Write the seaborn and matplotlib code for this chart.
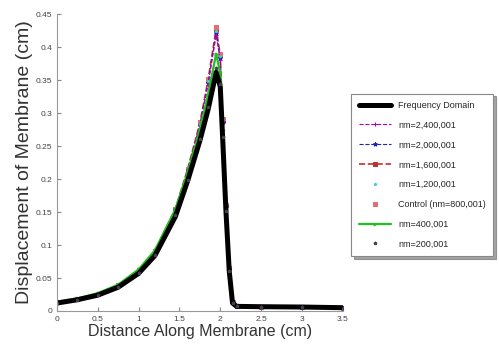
import numpy as np
import pandas as pd
import matplotlib
matplotlib.use("Agg")
import matplotlib.pyplot as plt
import seaborn as sns

# distance along membrane (cm)
dist = [0, 0.25, 0.5, 0.75, 1.0, 1.2, 1.45, 1.6, 1.75, 1.85, 1.95, 2.0,
        2.03, 2.07, 2.11, 2.15, 2.2, 2.5, 3.0, 3.5]

freq_domain = [0.012, 0.017, 0.024, 0.036, 0.057, 0.084, 0.143, 0.197, 0.258, 0.305, 0.362, 0.34,
               0.26, 0.15, 0.06, 0.012, 0.007, 0.0065, 0.006, 0.005]
nm_2400 = [0.013, 0.018, 0.026, 0.039, 0.061, 0.09, 0.153, 0.212, 0.28, 0.343, 0.418, 0.38,
           0.285, 0.158, 0.064, 0.013, 0.007, 0.0065, 0.006, 0.005]
nm_2000 = [0.013, 0.018, 0.026, 0.039, 0.061, 0.09, 0.154, 0.213, 0.282, 0.345, 0.422, 0.383,
           0.287, 0.159, 0.064, 0.013, 0.007, 0.0065, 0.006, 0.005]
nm_1600 = [0.013, 0.018, 0.026, 0.039, 0.062, 0.091, 0.155, 0.215, 0.285, 0.35, 0.428, 0.388,
           0.29, 0.16, 0.065, 0.013, 0.007, 0.0065, 0.006, 0.005]
nm_1200 = [0.013, 0.018, 0.026, 0.039, 0.062, 0.091, 0.155, 0.214, 0.284, 0.348, 0.425, 0.386,
           0.289, 0.16, 0.065, 0.013, 0.007, 0.0065, 0.006, 0.005]
control_800 = [0.013, 0.018, 0.026, 0.039, 0.062, 0.091, 0.155, 0.215, 0.286, 0.351, 0.43, 0.39,
               0.291, 0.161, 0.065, 0.013, 0.007, 0.0065, 0.006, 0.005]
nm_400 = [0.014, 0.019, 0.027, 0.04, 0.063, 0.092, 0.154, 0.21, 0.274, 0.328, 0.39, 0.36,
          0.275, 0.155, 0.062, 0.013, 0.007, 0.0065, 0.006, 0.005]
nm_200 = [0.012, 0.017, 0.025, 0.037, 0.058, 0.085, 0.145, 0.199, 0.261, 0.309, 0.368, 0.344,
          0.263, 0.152, 0.061, 0.012, 0.007, 0.0065, 0.006, 0.005]

labels = ["Frequency Domain", "nm=2,400,001", "nm=2,000,001", "nm=1,600,001",
          "nm=1,200,001", "Control (nm=800,001)", "nm=400,001", "nm=200,001"]
series = [freq_domain, nm_2400, nm_2000, nm_1600, nm_1200, control_800, nm_400, nm_200]

styles = {
    "Frequency Domain": dict(color="black", lw=3.6, ls="-", marker=None, ms=0),
    "nm=2,400,001": dict(color="#b000b0", lw=0.8, ls="--", marker="+", ms=3),
    "nm=2,000,001": dict(color="#2020c0", lw=0.8, ls="--", marker="*", ms=3),
    "nm=1,600,001": dict(color="#c03030", lw=1.2, ls="--", marker="s", ms=2.5),
    "nm=1,200,001": dict(color="#40d0c0", lw=0, ls="", marker=".", ms=3),
    "Control (nm=800,001)": dict(color="#e07070", lw=0, ls="", marker="s", ms=2.5),
    "nm=400,001": dict(color="#20c020", lw=1.6, ls="-", marker=">", ms=2),
    "nm=200,001": dict(color="#404050", lw=0, ls="", marker="*", ms=2.5),
}

df = pd.concat([pd.DataFrame({"x": dist, "y": s, "name": n}) for n, s in zip(labels, series)])

sns.set_style("ticks")
plt.rcParams['font.family'] = ['Liberation Sans', 'DejaVu Sans']

fig = plt.figure(figsize=(4.99, 3.53), dpi=100)
ax = fig.add_axes([0.114, 0.119, 0.573, 0.841])

# draw order: coloured ones first, black on top of the lower part
order = ["nm=1,600,001", "Control (nm=800,001)", "nm=2,000,001", "nm=2,400,001",
         "nm=1,200,001", "nm=400,001", "Frequency Domain", "nm=200,001"]
for name in order:
    st = styles[name]
    sub = df[df["name"] == name]
    sns.lineplot(data=sub, x="x", y="y", ax=ax, color=st["color"], linewidth=st["lw"],
                 linestyle=st["ls"] if st["ls"] else "-", marker=st["marker"],
                 markersize=st["ms"], markeredgecolor=st["color"],
                 label=name, sort=False, legend=False)
    if st["ls"] == "":
        ax.lines[-1].set_linestyle("none")

ax.set_xlim(0, 3.5)
ax.set_ylim(0, 0.45)
ax.set_xticks(np.arange(0, 3.51, 0.5))
ax.set_xticklabels(["0", "0.5", "1", "1.5", "2", "2.5", "3", "3.5"])
ax.set_yticks(np.arange(0, 0.451, 0.05))
ax.set_yticklabels(["0", "0.05", "0.1", "0.15", "0.2", "0.25", "0.3", "0.35", "0.4", "0.45"])
ax.tick_params(labelsize=6, length=3, direction="in", color="#888888", labelcolor="#444444")
for sp in ["top", "right"]:
    ax.spines[sp].set_visible(False)
for sp in ["left", "bottom"]:
    ax.spines[sp].set_color("#999999")
    ax.spines[sp].set_linewidth(0.8)
ax.set_xlabel("Distance Along Membrane (cm)", fontsize=11.5, color="#333333", labelpad=1)
ax.set_ylabel("Displacement of Membrane (cm)", fontsize=14, color="#333333", labelpad=2)

handles = {l.get_label(): l for l in ax.lines}
leg = fig.legend([handles[n] for n in labels], labels, loc="center left",
                 bbox_to_anchor=(0.695, 0.505), fontsize=6.5, frameon=True, fancybox=False,
                 shadow=True, handlelength=3.6, labelspacing=1.2, borderpad=0.8)
leg.get_frame().set_edgecolor("#888888")
leg.get_frame().set_linewidth(0.8)

fig.savefig("out.png", dpi=100)
